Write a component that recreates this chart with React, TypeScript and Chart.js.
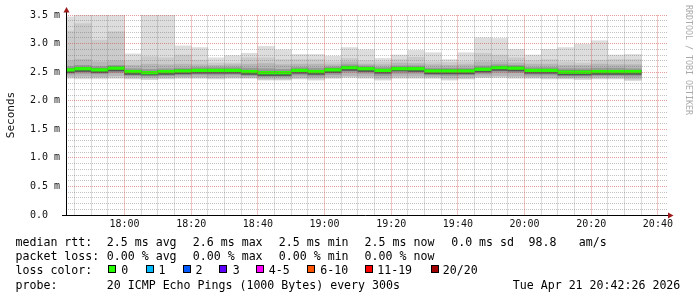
import React, { useEffect, useRef } from "react";
import { Chart, registerables } from "chart.js";

Chart.register(...registerables);

// ---------- data ----------
const graphStart = "17:42:26";
const graphEnd = "20:42:26";

// end time of each 5-minute step (300 s)
const stepEnds = [
  "17:45", "17:50", "17:55", "18:00", "18:05", "18:10", "18:15", "18:20", "18:25", "18:30",
  "18:35", "18:40", "18:45", "18:50", "18:55", "19:00", "19:05", "19:10", "19:15", "19:20",
  "19:25", "19:30", "19:35", "19:40", "19:45", "19:50", "19:55", "20:00", "20:05", "20:10",
  "20:15", "20:20", "20:25", "20:30", "20:35",
];

// smoke bands (ms), outermost to innermost
const pingMax = [3.47, 3.62, 3.7, 3.66, 2.82, 3.75, 3.58, 2.96, 2.93, 2.75, 2.79, 2.83, 2.95, 2.89, 2.81, 2.81, 2.78, 2.93, 2.89, 2.74, 2.8, 2.88, 2.84, 2.72, 2.84, 3.1, 3.09, 2.9, 2.8, 2.9, 2.93, 2.99, 3.05, 2.8, 2.81];
const pingMin = [2.39, 2.38, 2.38, 2.39, 2.38, 2.37, 2.38, 2.39, 2.39, 2.38, 2.39, 2.39, 2.36, 2.36, 2.38, 2.36, 2.39, 2.4, 2.39, 2.36, 2.39, 2.39, 2.39, 2.36, 2.38, 2.4, 2.4, 2.39, 2.39, 2.38, 2.38, 2.37, 2.38, 2.38, 2.35];
const upper2 = [3.22, 3.35, 3.06, 3.21, 2.7, 2.77, 2.75, 2.8, 2.71, 2.66, 2.66, 2.75, 2.75, 2.72, 2.72, 2.72, 2.68, 2.74, 2.7, 2.68, 2.72, 2.76, 2.68, 2.67, 2.68, 2.83, 2.8, 2.75, 2.7, 2.72, 2.68, 2.66, 2.71, 2.72, 2.72];
const lower2 = [2.41, 2.4, 2.4, 2.41, 2.39, 2.38, 2.39, 2.4, 2.4, 2.39, 2.4, 2.4, 2.37, 2.37, 2.39, 2.38, 2.4, 2.42, 2.41, 2.38, 2.41, 2.41, 2.4, 2.38, 2.39, 2.41, 2.42, 2.41, 2.4, 2.39, 2.39, 2.38, 2.39, 2.39, 2.37];
const upper3 = [2.7, 2.72, 2.68, 2.7, 2.62, 2.64, 2.63, 2.64, 2.63, 2.62, 2.63, 2.64, 2.65, 2.63, 2.64, 2.64, 2.63, 2.68, 2.64, 2.63, 2.66, 2.65, 2.63, 2.62, 2.63, 2.68, 2.68, 2.66, 2.64, 2.64, 2.62, 2.62, 2.64, 2.63, 2.63];
const lower3 = [2.43, 2.43, 2.42, 2.44, 2.41, 2.4, 2.41, 2.42, 2.42, 2.41, 2.42, 2.41, 2.39, 2.39, 2.41, 2.4, 2.42, 2.44, 2.43, 2.4, 2.43, 2.43, 2.42, 2.4, 2.41, 2.43, 2.44, 2.43, 2.42, 2.41, 2.4, 2.4, 2.41, 2.41, 2.39];
const upper4 = [2.6, 2.62, 2.6, 2.62, 2.56, 2.55, 2.56, 2.57, 2.58, 2.58, 2.58, 2.57, 2.56, 2.55, 2.58, 2.57, 2.59, 2.63, 2.61, 2.58, 2.61, 2.61, 2.57, 2.57, 2.57, 2.61, 2.63, 2.62, 2.58, 2.58, 2.56, 2.56, 2.57, 2.57, 2.56];
const lower4 = [2.47, 2.48, 2.47, 2.49, 2.44, 2.43, 2.44, 2.45, 2.46, 2.45, 2.46, 2.44, 2.42, 2.42, 2.45, 2.43, 2.46, 2.5, 2.48, 2.44, 2.48, 2.48, 2.45, 2.44, 2.45, 2.47, 2.5, 2.49, 2.45, 2.45, 2.43, 2.43, 2.44, 2.44, 2.43];
const upper5 = [2.56, 2.58, 2.56, 2.59, 2.53, 2.51, 2.53, 2.54, 2.55, 2.55, 2.55, 2.53, 2.51, 2.51, 2.55, 2.53, 2.56, 2.6, 2.58, 2.55, 2.58, 2.58, 2.54, 2.54, 2.54, 2.57, 2.6, 2.59, 2.55, 2.55, 2.52, 2.52, 2.53, 2.53, 2.53];
const lower5 = [2.49, 2.51, 2.49, 2.52, 2.46, 2.45, 2.46, 2.47, 2.48, 2.48, 2.48, 2.46, 2.44, 2.44, 2.48, 2.46, 2.49, 2.53, 2.51, 2.48, 2.52, 2.51, 2.47, 2.47, 2.47, 2.5, 2.53, 2.52, 2.48, 2.48, 2.45, 2.45, 2.46, 2.46, 2.46];
// median rtt (ms), all steps with 0 loss
const medianRtt = [2.54, 2.56, 2.54, 2.57, 2.51, 2.49, 2.51, 2.52, 2.53, 2.53, 2.53, 2.51, 2.49, 2.49, 2.53, 2.51, 2.54, 2.58, 2.56, 2.53, 2.56, 2.56, 2.52, 2.52, 2.52, 2.55, 2.58, 2.57, 2.53, 2.53, 2.5, 2.5, 2.51, 2.51, 2.51];

const xTickLabels = ["18:00", "18:20", "18:40", "19:00", "19:20", "19:40", "20:00", "20:20", "20:40"];
const yTickValues = [0, 0.5, 1, 1.5, 2, 2.5, 3, 3.5];
const yTickLabels = ["0.0  ", "0.5 m", "1.0 m", "1.5 m", "2.0 m", "2.5 m", "3.0 m", "3.5 m"];

const lossLegend = [
  { label: "0", color: "#26ff00" },
  { label: "1", color: "#00b8ff" },
  { label: "2", color: "#0059ff" },
  { label: "3", color: "#5e00ff" },
  { label: "4-5", color: "#ff00ff" },
  { label: "6-10", color: "#ff5500" },
  { label: "11-19", color: "#ff0000" },
  { label: "20/20", color: "#a10000" },
];

const statsRtt = ["2.5 ms avg", "2.6 ms max", "2.5 ms min", "2.5 ms now", "0.0 ms sd", "98.8", "am/s"];
const statsLoss = ["0.00 % avg", "0.00 % max", "0.00 % min", "0.00 % now"];
const probeText = "20 ICMP Echo Pings (1000 Bytes) every 300s";
const dateText = "Tue Apr 21 20:42:26 2026";

// ---------- helpers ----------
const toMin = (s: string) => {
  const p = s.split(":").map(Number);
  return p[0] * 60 + p[1] + (p[2] || 0) / 60;
};
const STEP = 5;
const MEDIAN_HALF = 0.023;
const MONO = "'DejaVu Sans Mono', monospace";

const layers = [
  { lo: lower5, hi: upper5, color: "#555555" },
  { lo: lower4, hi: upper4, color: "#999999" },
  { lo: lower3, hi: upper3, color: "#b6b6b6" },
  { lo: lower2, hi: upper2, color: "#cbcbcb" },
  { lo: pingMin, hi: pingMax, color: "#dddddd" },
];

const MINOR = "rgba(110,110,110,0.42)";
const MAJOR = "rgba(210,60,60,0.5)";
const MINOR_V = "rgba(110,110,110,0.25)";
const MAJOR_V = "rgba(210,60,60,0.3)";

const gridPlugin = {
  id: "rrdGrid",
  afterDatasetsDraw(chart: any) {
    const { ctx, chartArea: a, scales } = chart;
    const x = scales.x;
    const y = scales.y;
    ctx.save();
    const left = Math.round(a.left) + 1;
    const right = Math.round(a.right) + 2;
    const top = Math.round(a.top);
    const bottom = Math.round(a.bottom);
    // horizontal minor / major (dotted)
    for (let i = 1; i <= 35; i++) {
      const major = i % 5 === 0;
      const row = Math.floor(y.getPixelForValue(i / 10));
      ctx.fillStyle = major ? MAJOR : MINOR;
      for (let px = left + 1; px < right; px += 2) ctx.fillRect(px, row, 1, 1);
    }
    // vertical minor / major
    const xMin = Number(x.min);
    const xMax = Number(x.max);
    const first = Math.ceil(xMin / STEP);
    const last = Math.floor(xMax / STEP);
    for (let k = first; k <= last; k++) {
      const t = k * STEP;
      const major = k % 4 === 0;
      const col = Math.floor(x.getPixelForValue(t));
      ctx.fillStyle = major ? MAJOR_V : MINOR_V;
      ctx.fillRect(col, top, 1, bottom - top);
    }
    ctx.restore();
  },
  afterDraw(chart: any) {
    const { ctx, chartArea: a } = chart;
    ctx.save();
    ctx.strokeStyle = "#000";
    ctx.lineWidth = 1;
    const ax = a.left + 0.5;
    const ay = a.bottom + 0.5;
    ctx.beginPath();
    ctx.moveTo(ax, ay);
    ctx.lineTo(ax, a.top - 3);
    ctx.moveTo(a.left - 4, ay);
    ctx.lineTo(a.right + 3, ay);
    ctx.stroke();
    ctx.fillStyle = "#9e1a1a";
    ctx.beginPath();
    ctx.moveTo(ax - 3, a.top - 2.5);
    ctx.lineTo(ax + 3, a.top - 2.5);
    ctx.lineTo(ax, a.top - 8);
    ctx.closePath();
    ctx.fill();
    ctx.beginPath();
    ctx.moveTo(a.right + 2, ay - 3);
    ctx.lineTo(a.right + 2, ay + 3);
    ctx.lineTo(a.right + 7.5, ay);
    ctx.closePath();
    ctx.fill();
    // watermark
    ctx.fillStyle = "#aaaaaa";
    ctx.font = "8.3px " + MONO;
    ctx.textBaseline = "alphabetic";
    ctx.textAlign = "left";
    ctx.translate(685.5, 5);
    ctx.rotate(Math.PI / 2);
    ctx.fillText("RRDTOOL / TOBI OETIKER", 0, 0);
    ctx.restore();
  },
};

export default function App() {
  const ref = useRef<HTMLCanvasElement | null>(null);

  useEffect(() => {
    if (!ref.current) return;
    const centers = stepEnds.map((s) => toMin(s) - STEP / 2);
    const xTickValues = xTickLabels.map(toMin);

    const datasets: any[] = [
      {
        label: "median",
        data: medianRtt.map((m, i) => ({ x: centers[i], y: [m - MEDIAN_HALF, m + MEDIAN_HALF] })),
        backgroundColor: "#26ff00",
      },
      ...layers.map((l, li) => ({
        label: "smoke" + li,
        data: l.lo.map((lo, i) => ({ x: centers[i], y: [lo, l.hi[i]] })),
        backgroundColor: l.color,
      })),
    ];

    const chart = new Chart(ref.current, {
      type: "bar",
      data: { datasets },
      plugins: [gridPlugin],
      options: {
        responsive: false,
        animation: false,
        events: [],
        layout: { padding: { left: 0, top: 15, right: 31, bottom: 0 } },
        plugins: { legend: { display: false }, tooltip: { enabled: false } },
        datasets: {
          bar: { grouped: false, barPercentage: 1, categoryPercentage: 1, borderWidth: 0 },
        },
        scales: {
          x: {
            type: "linear",
            offset: false,
            min: toMin(graphStart),
            max: toMin(graphEnd),
            grid: { display: false, drawTicks: false, offset: false },
            border: { display: false },
            afterBuildTicks: (s: any) => {
              s.ticks = xTickValues.map((v) => ({ value: v }));
            },
            afterFit: (s: any) => {
              s.height = 82;
            },
            ticks: {
              autoSkip: false,
              maxRotation: 0,
              padding: 3,
              color: "#111",
              font: { family: MONO, size: 10 },
              callback: (v: any) => {
                const i = xTickValues.findIndex((t) => Math.abs(t - v) < 1e-6);
                return i >= 0 ? xTickLabels[i] : "";
              },
            },
          },
          y: {
            min: 0,
            max: 3.5,
            grid: { display: false, drawTicks: false },
            border: { display: false },
            afterBuildTicks: (s: any) => {
              s.ticks = yTickValues.map((v) => ({ value: v }));
            },
            afterFit: (s: any) => {
              s.width = 66;
            },
            title: {
              display: true,
              text: "Seconds",
              color: "#111",
              font: { family: MONO, size: 11 },
              padding: { top: 5, bottom: 0 },
            },
            ticks: {
              padding: 6,
              color: "#111",
              font: { family: MONO, size: 10 },
              callback: (v: any) => {
                const i = yTickValues.findIndex((t) => Math.abs(t - v) < 1e-6);
                return i >= 0 ? yTickLabels[i] : "";
              },
            },
          },
        },
      } as any,
    });
    return () => chart.destroy();
  }, []);

  const font: React.CSSProperties = {
    position: "absolute",
    fontFamily: MONO,
    fontSize: "11.6px",
    lineHeight: "14px",
    whiteSpace: "pre",
    color: "#000",
  };
  const base = [245.8, 260.1, 274.2, 288.5];
  const t = (i: number) => base[i] - 11;
  const statX = [106.8, 192.8, 278.8, 364.6, 451.2, 528.6, 578.8];
  const boxX = [108.3, 145.7, 182.7, 219.3, 256, 307.3, 365, 430.7];
  const lblX = [121.2, 158.5, 195.5, 232.8, 268.8, 320.2, 377.2, 442.8];

  return (
    <div style={{ position: "absolute", left: 0, top: 0, width: 697, height: 297, background: "#fff" }}>
      <canvas ref={ref} width={697} height={297} style={{ display: "block", width: 697, height: 297 }} />
      <div style={{ ...font, left: 15.5, top: t(0) }}>median rtt:</div>
      {statsRtt.map((s, i) => (
        <div key={"r" + i} style={{ ...font, left: statX[i], top: t(0) }}>{s}</div>
      ))}
      <div style={{ ...font, left: 15.5, top: t(1) }}>packet loss:</div>
      {statsLoss.map((s, i) => (
        <div key={"l" + i} style={{ ...font, left: statX[i], top: t(1) }}>{s}</div>
      ))}
      <div style={{ ...font, left: 15.5, top: t(2) }}>loss color:</div>
      {lossLegend.map((l, i) => (
        <React.Fragment key={"c" + i}>
          <div
            style={{
              position: "absolute",
              left: boxX[i],
              top: 265.3,
              width: 8,
              height: 8,
              boxSizing: "border-box",
              border: "1px solid #000",
              background: l.color,
            }}
          />
          <div style={{ ...font, left: lblX[i], top: t(2) }}>{l.label}</div>
        </React.Fragment>
      ))}
      <div style={{ ...font, left: 15.5, top: t(3) }}>probe:</div>
      <div style={{ ...font, left: statX[0], top: t(3) }}>{probeText}</div>
      <div style={{ ...font, left: 512.8, top: t(3) }}>{dateText}</div>
    </div>
  );
}
